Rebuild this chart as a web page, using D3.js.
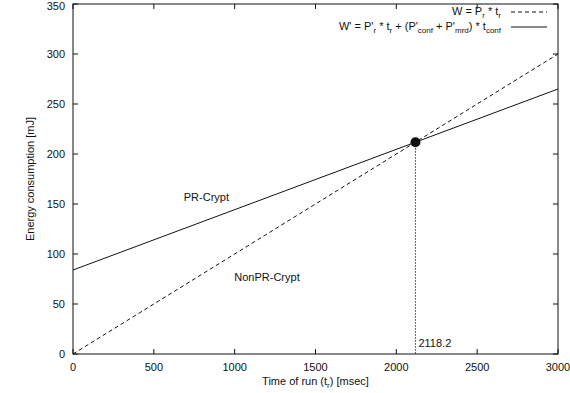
<!DOCTYPE html>
<html>
<head>
<meta charset="utf-8">
<script src="https://cdn.jsdelivr.net/npm/d3@7"></script>
<style>
  body { margin: 0; background: #fff; }
  text { font-family: "Liberation Sans", Arial, sans-serif; fill: #111; }
</style>
</head>
<body>
<div id="chart"></div>
<script>
// Energy consumption vs time of run (W and W' lines, crossover point)
const xTicks = [0, 500, 1000, 1500, 2000, 2500, 3000];
const yTicks = [0, 50, 100, 150, 200, 250, 300, 350];
const xDomain = [0, 3000];
const yDomain = [0, 350];

// line endpoints (t, W)
const nonPrLine = [[0, 0], [3000, 300]];
const prLine = [[0, 84], [3000, 265]];
const crossing = [2118.2, 211.8];
const crossLabel = "2118.2";

const W = 570, H = 393;
const margin = { top: 4, right: 12, bottom: 39, left: 73 };
const width = W - margin.left - margin.right;
const height = H - margin.top - margin.bottom;

const svgRoot = d3.select("#chart").append("svg")
    .attr("width", W).attr("height", H);
const svg = svgRoot.append("g")
    .attr("transform", `translate(${margin.left},${margin.top})`);

const x = d3.scaleLinear().domain(xDomain).range([0, width]);
const y = d3.scaleLinear().domain(yDomain).range([height, 0]);

const tickLen = 5;
const fs = "11px";

// inward ticks on all four sides, gnuplot style
svg.selectAll(".xt").data(xTicks).enter().append("g").each(function (d) {
    const g = d3.select(this);
    g.append("line").attr("x1", x(d)).attr("x2", x(d)).attr("y1", height).attr("y2", height - tickLen)
        .attr("stroke", "#111");
    g.append("line").attr("x1", x(d)).attr("x2", x(d)).attr("y1", 0).attr("y2", tickLen)
        .attr("stroke", "#111");
    g.append("text").attr("x", x(d)).attr("y", height + 17)
        .attr("text-anchor", "middle").attr("font-size", fs).text(d);
});

svg.selectAll(".yt").data(yTicks).enter().append("g").each(function (d) {
    const g = d3.select(this);
    g.append("line").attr("x1", 0).attr("x2", tickLen).attr("y1", y(d)).attr("y2", y(d))
        .attr("stroke", "#111");
    g.append("line").attr("x1", width).attr("x2", width - tickLen).attr("y1", y(d)).attr("y2", y(d))
        .attr("stroke", "#111");
    g.append("text").attr("x", -8).attr("y", Math.max(y(d) + 4, 6))
        .attr("text-anchor", "end").attr("font-size", fs).text(d);
});

// frame
svg.append("rect").attr("x", 0).attr("y", 0).attr("width", width).attr("height", height)
    .attr("fill", "none").attr("stroke", "#111").attr("stroke-width", 1);

const line = d3.line().x(d => x(d[0])).y(d => y(d[1]));

svg.append("path").datum(nonPrLine).attr("d", line)
    .attr("fill", "none").attr("stroke", "#111").attr("stroke-width", 1)
    .attr("stroke-dasharray", "4,3");

svg.append("path").datum(prLine).attr("d", line)
    .attr("fill", "none").attr("stroke", "#111").attr("stroke-width", 1);

// dotted drop line from crossing
svg.append("line")
    .attr("x1", x(crossing[0])).attr("x2", x(crossing[0]))
    .attr("y1", y(crossing[1])).attr("y2", height)
    .attr("stroke", "#333").attr("stroke-dasharray", "1.5,1.5");

svg.append("circle").attr("cx", x(crossing[0])).attr("cy", y(crossing[1]))
    .attr("r", 5).attr("fill", "#111");

svg.append("text").attr("x", x(crossing[0]) + 3).attr("y", height - 7)
    .attr("font-size", fs).text(crossLabel);

// line annotations
svg.append("text").attr("x", x(825)).attr("y", y(153)).attr("text-anchor", "middle")
    .attr("font-size", fs).text("PR-Crypt");
svg.append("text").attr("x", x(1200)).attr("y", y(73)).attr("text-anchor", "middle")
    .attr("font-size", fs).text("NonPR-Crypt");

// axis titles
svg.append("text").attr("x", width / 2).attr("y", height + 31).attr("text-anchor", "middle")
    .attr("font-size", fs)
    .call(t => {
        t.append("tspan").text("Time of run (t");
        t.append("tspan").attr("font-size", "8px").attr("dy", 3).text("r");
        t.append("tspan").attr("dy", -3).text(") [msec]");
    });

svgRoot.append("text")
    .attr("transform", `translate(34,${margin.top + height / 2}) rotate(-90)`)
    .attr("text-anchor", "middle").attr("font-size", fs)
    .text("Energy consumption [mJ]");

// legend with subscripts
function richText(sel, parts) {
    parts.forEach(p => {
        const ts = sel.append("tspan").text(p[0]);
        if (p[1] === "sub") ts.attr("font-size", "8px").attr("dy", 3);
        if (p[1] === "up") ts.attr("dy", -3);
    });
}

const legX = x(xDomain[1]) - 57;
const leg1 = svg.append("text").attr("x", legX).attr("y", 11).attr("text-anchor", "end").attr("font-size", fs);
richText(leg1, [["W  = P"], ["r", "sub"], [" * t", "up"], ["r", "sub"]]);
const leg2 = svg.append("text").attr("x", legX).attr("y", 26).attr("text-anchor", "end").attr("font-size", fs);
richText(leg2, [["W' = P'"], ["r", "sub"], [" * t", "up"], ["r", "sub"], [" + (P'", "up"], ["conf", "sub"],
    [" + P'", "up"], ["mrd", "sub"], [") * t", "up"], ["conf", "sub"]]);

svg.append("line").attr("x1", legX + 10).attr("x2", legX + 46).attr("y1", 8).attr("y2", 8)
    .attr("stroke", "#111").attr("stroke-dasharray", "4,3");
svg.append("line").attr("x1", legX + 10).attr("x2", legX + 46).attr("y1", 23).attr("y2", 23)
    .attr("stroke", "#111");
</script>
</body>
</html>
